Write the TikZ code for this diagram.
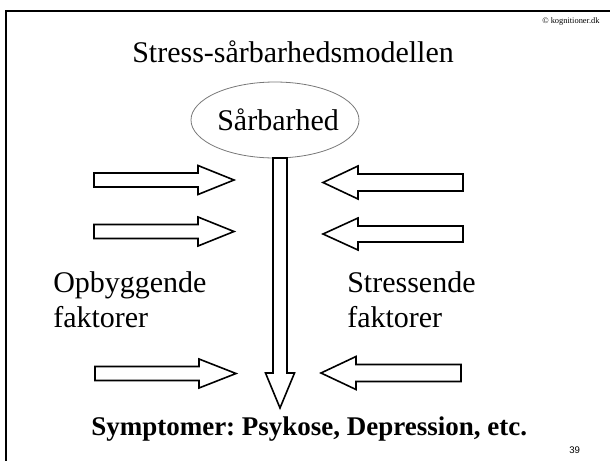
\documentclass[tikz,border=0pt]{standalone}
\usepackage{fontspec}
\setmainfont{Liberation Serif}
\newfontfamily\digitfont{Liberation Sans}
\usepackage{tikz}
\usepackage{xcolor}
\frenchspacing

\begin{document}
\begin{tikzpicture}[x=0.75pt,y=0.75pt,yscale=-1,xscale=1]
	\useasboundingbox (0,0) rectangle (610,461); %set diagram to 610 x 461

	%Shape: Frame lines
	\draw  [line width=1.9pt] (5,11) -- (610,11) ;
	\draw  [line width=1.9pt] (6,11) -- (6,461) ;

	%Shape: Ellipse [id:sarbarhed]
	\draw  [color={rgb, 255:red, 120; green, 120; blue, 120 }  ,draw opacity=1 ][line width=0.6pt] (275,120) ellipse [x radius=84, y radius=38] ;

	%Shape: Down Arrow [id:symptomarrow]
	\draw  [line width=1.2pt][fill={rgb, 255:red, 255; green, 255; blue, 255 }  ,fill opacity=1 ] (273,158) -- (287,158) -- (287,373) -- (294.5,373) -- (280,408) -- (265.5,373) -- (273,373) -- cycle ;

	%Shape: Right Arrow [id:opbyg1]
	\draw  [line width=1.2pt] (94,173) -- (198,173) -- (198,165.5) -- (234,180) -- (198,194.5) -- (198,187) -- (94,187) -- cycle ;
	%Shape: Right Arrow [id:opbyg2]
	\draw  [line width=1.2pt] (94,224.5) -- (198,224.5) -- (198,217) -- (234,231.5) -- (198,246) -- (198,238.5) -- (94,238.5) -- cycle ;
	%Shape: Right Arrow [id:opbyg3]
	\draw  [line width=1.2pt] (95,366.5) -- (199,366.5) -- (199,359) -- (236,373.5) -- (199,388) -- (199,380.5) -- (95,380.5) -- cycle ;

	%Shape: Left Arrow [id:stress1]
	\draw  [line width=1.2pt] (463,174) -- (358,174) -- (358,166) -- (323,182.5) -- (358,199) -- (358,191) -- (463,191) -- cycle ;
	%Shape: Left Arrow [id:stress2]
	\draw  [line width=1.2pt] (463,226) -- (358,226) -- (358,218) -- (323,234) -- (358,250) -- (358,242) -- (463,242) -- cycle ;
	%Shape: Left Arrow [id:stress3]
	\draw  [line width=1.2pt] (461,364.5) -- (356,364.5) -- (356,356.5) -- (321,373) -- (356,389.5) -- (356,381.5) -- (461,381.5) -- cycle ;

	% Text Node
	\draw (542,23) node (copyright) [anchor=base west][inner sep=0pt]  [font=\fontsize{6.3}{7}\selectfont]  {© kognitioner.dk};
	% Text Node
	\draw (132,62) node (title) [anchor=base west][inner sep=0pt]  [font=\fontsize{22.5}{27}\selectfont]  {Stress-sårbarhedsmodellen};
	% Text Node
	\draw (217,130) node (sarb) [anchor=base west][inner sep=0pt]  [font=\fontsize{22.5}{27}\selectfont]  {Sårbarhed};
	% Text Node
	\draw (53,292) node (opbyg) [anchor=base west][inner sep=0pt]  [font=\fontsize{22.5}{27}\selectfont]  {Opbyggende};
	% Text Node
	\draw (53,327) node (opfakt) [anchor=base west][inner sep=0pt]  [font=\fontsize{22.5}{27}\selectfont]  {faktorer};
	% Text Node
	\draw (347,292) node (stress) [anchor=base west][inner sep=0pt]  [font=\fontsize{22.5}{27}\selectfont]  {Stressende};
	% Text Node
	\draw (347,327) node (stfakt) [anchor=base west][inner sep=0pt]  [font=\fontsize{22.5}{27}\selectfont]  {faktorer};
	% Text Node
	\draw (91,435) node (symptom) [anchor=base west][inner sep=0pt]  [font=\fontsize{20.25}{24}\selectfont\bfseries]  {Symptomer: Psykose, Depression, etc.};
	% Text Node
	\draw (569,453) node (pagenr) [anchor=base west][inner sep=0pt]  [font=\fontsize{7.2}{8}\selectfont\digitfont]  {39};

\end{tikzpicture}
\end{document}
